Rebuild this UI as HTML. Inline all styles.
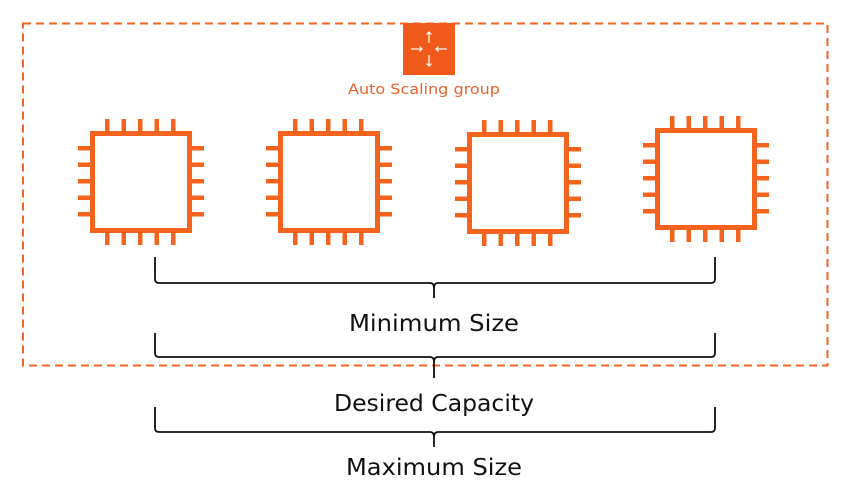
<!DOCTYPE html>
<html><head><meta charset="utf-8"><style>
html,body{margin:0;padding:0;background:#fff;}
svg{display:block;}
text{font-family:"DejaVu Sans","Liberation Sans",sans-serif;}
</style></head><body>
<svg id="s" width="852" height="498" viewBox="0 0 852 498" xmlns="http://www.w3.org/2000/svg">
<rect x="0" y="0" width="852" height="498" fill="#fff"/>
<rect x="23" y="23.5" width="804.5" height="342" fill="none" stroke="#f26522" stroke-width="2" stroke-dasharray="8,5"/>
<rect x="403" y="23" width="52" height="52" fill="#f05a1a"/>
<g stroke="#fff" stroke-width="1.2" fill="none">
<line x1="429" y1="32" x2="429" y2="43"/><polyline points="426.5,34.5 429,32 431.5,34.5"/>
<line x1="429" y1="55" x2="429" y2="66"/><polyline points="426.5,63.5 429,66 431.5,63.5"/>
<line x1="411" y1="49" x2="422" y2="49"/><polyline points="419.5,46.5 422,49 419.5,51.5"/>
<line x1="436" y1="49" x2="447" y2="49"/><polyline points="438.5,46.5 436,49 438.5,51.5"/>
</g>
<text x="424" y="94" font-size="14" fill="#e8622a" text-anchor="middle" textLength="152" lengthAdjust="spacingAndGlyphs">Auto Scaling group</text>
<g id="chips" fill="#f5641e"></g>
<g fill="none" stroke="#111" stroke-width="1.8" stroke-linejoin="round">
<path d="M155,257 V279 Q155,283 159,283 H430 Q434,283 434,288 V298 M434,288 Q434,283 438,283 H711 Q715,283 715,279 V257"/>
<path d="M155,333 V353 Q155,357 159,357 H430 Q434,357 434,362 V378 M434,362 Q434,357 438,357 H711 Q715,357 715,353 V333"/>
<path d="M155,407 V428 Q155,432 159,432 H430 Q434,432 434,437 V447 M434,437 Q434,432 438,432 H711 Q715,432 715,428 V407"/>
</g>
<text x="434" y="331" font-size="23" fill="#111" text-anchor="middle" textLength="170" lengthAdjust="spacingAndGlyphs">Minimum Size</text>
<text x="434" y="411" font-size="23" fill="#111" text-anchor="middle" textLength="200" lengthAdjust="spacingAndGlyphs">Desired Capacity</text>
<text x="434" y="475" font-size="23" fill="#111" text-anchor="middle" textLength="176" lengthAdjust="spacingAndGlyphs">Maximum Size</text>
</svg>
<script>
var g=document.getElementById('chips'),h='';
[[90,131],[278,131],[467,132],[655,128]].forEach(function(c){
var x=c[0],y=c[1],s=102;
h+='<rect x="'+(x+2.5)+'" y="'+(y+2.5)+'" width="'+(s-5)+'" height="'+(s-5)+'" fill="none" stroke="#f5641e" stroke-width="5"/>';
for(var i=0;i<5;i++){var o=17+i*16.5;
h+='<rect x="'+(x+o-2)+'" y="'+(y-12)+'" width="4.5" height="12"/>';
h+='<rect x="'+(x+o-2)+'" y="'+(y+s)+'" width="4.5" height="12"/>';
h+='<rect x="'+(x-12)+'" y="'+(y+o-2)+'" width="12" height="4.5"/>';
h+='<rect x="'+(x+s)+'" y="'+(y+o-2)+'" width="12" height="4.5"/>';}
});
g.innerHTML=h;
</script>
</body></html>
